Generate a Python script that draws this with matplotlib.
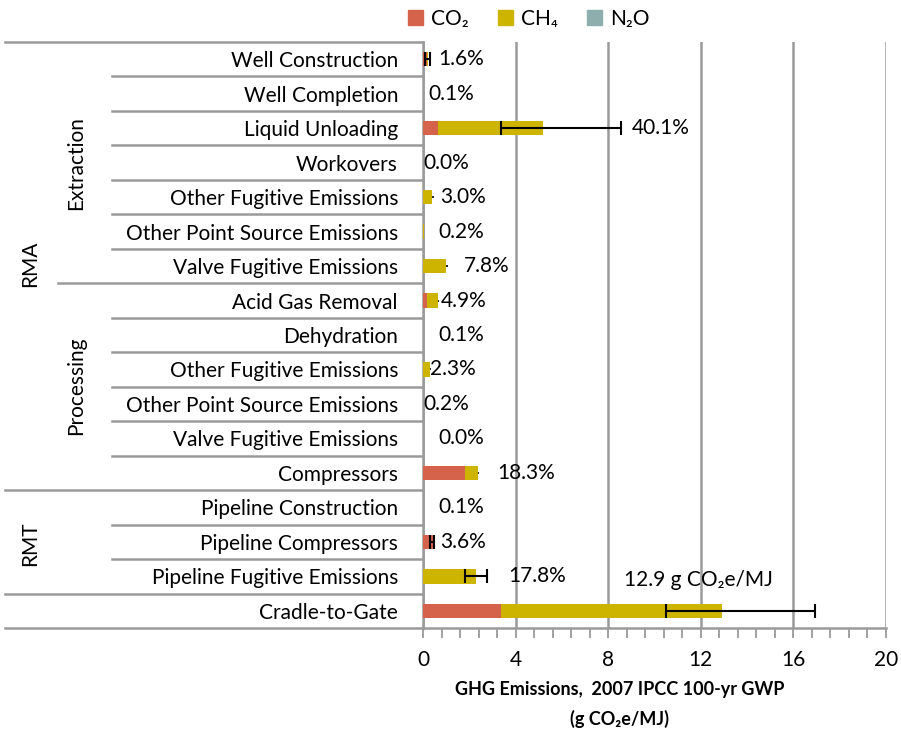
import matplotlib
matplotlib.use("Agg")
import matplotlib.pyplot as plt
import numpy as np
from matplotlib.patches import Patch
from matplotlib.lines import Line2D
from matplotlib.transforms import blended_transform_factory

# data (g CO2e/MJ), rows listed top to bottom
categories = ['Well Construction', 'Well Completion', 'Liquid Unloading', 'Workovers',
              'Other Fugitive Emissions', 'Other Point Source Emissions', 'Valve Fugitive Emissions',
              'Acid Gas Removal', 'Dehydration', 'Other Fugitive Emissions',
              'Other Point Source Emissions', 'Valve Fugitive Emissions', 'Compressors',
              'Pipeline Construction', 'Pipeline Compressors', 'Pipeline Fugitive Emissions',
              'Cradle-to-Gate']
co2 = [0.18, 0.01, 0.63, 0.0, 0.0, 0.02, 0.0, 0.17, 0.01, 0.0, 0.02, 0.0, 1.83,
       0.01, 0.46, 0.0, 3.38]
ch4 = [0.03, 0.0, 4.55, 0.0, 0.39, 0.01, 1.0, 0.46, 0.0, 0.3, 0.0, 0.0, 0.53,
       0.0, 0.0, 2.3, 9.52]
n2o = [0.0] * 17
err_lo = [0.1, np.nan, 3.37, np.nan, 0.39, np.nan, 1.0, 0.63, np.nan, 0.3, np.nan, np.nan, 2.36,
          np.nan, 0.32, 1.83, 10.48]
err_hi = [0.3, np.nan, 8.55, np.nan, 0.47, np.nan, 1.06, 0.69, np.nan, 0.35, np.nan, np.nan, 2.44,
          np.nan, 0.49, 2.76, 16.95]
pct_labels = ['1.6%', '0.1%', '40.1%', '0.0%', '3.0%', '0.2%', '7.8%', '4.9%', '0.1%', '2.3%',
              '0.2%', '0.0%', '18.3%', '0.1%', '3.6%', '17.8%', '']
total_label = '12.9 g CO\u2082e/MJ'

# where Excel put the data labels (x in data units)
label_x = [0.65, 0.22, 9.03, 0.0, 0.73, 0.65, 1.77, 0.78, 0.65, 0.3, 0.0, 0.65, 3.2,
           0.65, 0.73, 3.67]

c_co2 = '#D5624A'
c_ch4 = '#CDB400'
c_n2o = '#8EAEAE'
grey = '#9A9A9A'

plt.rcParams['font.family'] = ['Lato', 'DejaVu Sans']
fs = 15

W, H = 901, 732
fig = plt.figure(figsize=(W / 100, H / 100), dpi=100)
ax = fig.add_axes([423 / W, 1 - 628 / H, (886 - 423) / W, (628 - 42) / H])

y = np.arange(len(categories))
co2 = np.array(co2)
ch4 = np.array(ch4)
n2o = np.array(n2o)
h = 0.42
ax.barh(y, co2, height=h, color=c_co2, zorder=3)
ax.barh(y, ch4, left=co2, height=h, color=c_ch4, zorder=3)
ax.barh(y, n2o, left=co2 + ch4, height=h, color=c_n2o, zorder=3)

lo = np.array(err_lo)
hi = np.array(err_hi)
mid = (lo + hi) / 2
big = (hi - lo) > 0.12
small = (hi - lo) <= 0.12
ax.errorbar(mid[big], y[big], xerr=(hi - lo)[big] / 2, fmt='none', ecolor='black',
            elinewidth=1.5, capsize=5, capthick=1.5, zorder=4)
ax.errorbar(mid[small], y[small], xerr=(hi - lo)[small] / 2, fmt='none', ecolor='black',
            elinewidth=1.2, capsize=0, zorder=4)

for i, t in enumerate(pct_labels):
    if t:
        ax.text(label_x[i], y[i], t, va='center', ha='left', fontsize=fs, zorder=5)
ax.text(8.68, 15.1, total_label, va='center', ha='left', fontsize=fs)

ax.set_xlim(0, 20)
ax.set_ylim(len(categories) - 0.5, -0.5)
ax.set_xticks(np.arange(0, 21, 4))
ax.set_xticks(np.arange(0, 20.01, 0.8), minor=True)
ax.xaxis.grid(True, color=grey, linewidth=1.8, zorder=0)
ax.tick_params(axis='x', which='both', direction='out', length=7, width=1.3, color=grey,
               labelsize=fs, pad=9)
ax.set_yticks(y)
ax.set_yticklabels(categories, fontsize=fs)
ax.tick_params(axis='y', length=0, pad=18)
for s in ['top', 'right']:
    ax.spines[s].set_visible(False)
for s in ['left', 'bottom']:
    ax.spines[s].set_color(grey)
    ax.spines[s].set_linewidth(1.8)

# hierarchical category separators on the left
tr = blended_transform_factory(fig.transFigure, ax.transData)
x_axis = 423 / W
for b in np.arange(len(categories) + 1) - 0.5:
    if b in (-0.5, 12.5, 15.5, 16.5):
        x0 = 5 / W
    elif b == 6.5:
        x0 = 58 / W
    else:
        x0 = 112 / W
    fig.add_artist(Line2D([x0, x_axis], [b, b], transform=tr, color=grey, linewidth=1.8,
                          clip_on=False))

fig.text(30 / W, 1 - 264 / H, 'RMA', rotation=90, ha='center', va='center', fontsize=fs)
fig.text(30 / W, 1 - 544 / H, 'RMT', rotation=90, ha='center', va='center', fontsize=fs)
fig.text(76 / W, 1 - 163 / H, 'Extraction', rotation=90, ha='center', va='center', fontsize=fs)
fig.text(76 / W, 1 - 386 / H, 'Processing', rotation=90, ha='center', va='center', fontsize=fs)

fig.text(620 / W, 1 - 690 / H, 'GHG Emissions,  2007 IPCC 100-yr GWP', ha='center', va='center',
         fontsize=13, fontweight='bold')
fig.text(620 / W, 1 - 719 / H, '(g CO\u2082e/MJ)', ha='center', va='center',
         fontsize=13, fontweight='bold')

handles = [Patch(color=c_co2, label='CO\u2082'), Patch(color=c_ch4, label='CH\u2084'),
           Patch(color=c_n2o, label='N\u2082O')]
fig.legend(handles=handles, loc='center', bbox_to_anchor=(529 / W, 1 - 19 / H), ncol=3,
           frameon=False, fontsize=fs, handlelength=0.7, handleheight=0.7, handletextpad=0.4,
           columnspacing=1.4)

fig.savefig('out.png', dpi=100)
